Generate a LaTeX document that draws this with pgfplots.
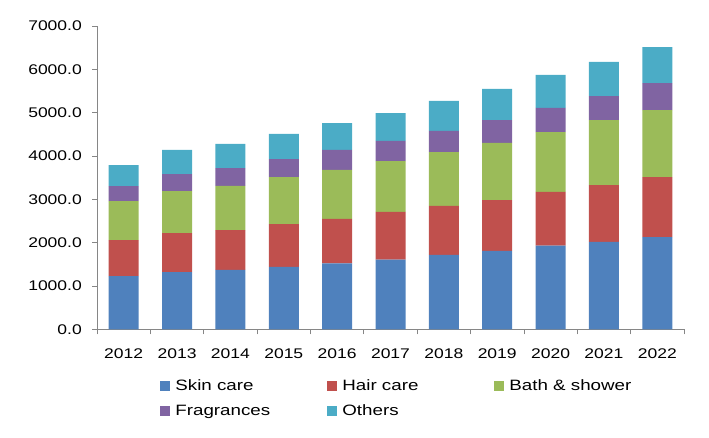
\documentclass[border=0pt]{standalone}
\usepackage{fontspec}
\setmainfont{Liberation Sans}[FakeStretch=1.25]
\usepackage{pgfplots}
\pgfplotsset{compat=1.18}
\definecolor{cSkin}{HTML}{4F81BD}
\definecolor{cHair}{HTML}{C0504D}
\definecolor{cBath}{HTML}{9BBB59}
\definecolor{cFrag}{HTML}{8064A2}
\definecolor{cOth}{HTML}{4BACC6}
\definecolor{axgray}{HTML}{868686}
\newcommand\tf{\fontsize{14bp}{16bp}\selectfont}
\newcommand\lf{\fontsize{15bp}{17bp}\selectfont}
\begin{document}
\begin{tikzpicture}
\path[use as bounding box] (0,0) rectangle (709bp,438bp);
\begin{axis}[
  at={(97bp,108.7bp)}, anchor=south west,
  scale only axis, width=587bp, height=303.3bp,
  ybar stacked, bar width=30bp,
  xmin=-0.5, xmax=10.5, ymin=0, ymax=7000,
  axis x line*=bottom, axis y line*=left,
  axis line style={axgray, line width=0.8bp},
  xtick={0,...,10},
  xticklabels={2012,2013,2014,2015,2016,2017,2018,2019,2020,2021,2022},
  minor xtick={-0.5,0.5,...,10.5},
  major x tick style={draw=none},
  minor x tick style={axgray, line width=0.8bp},
  minor tick length=5bp,
  ytick={0,1000,...,7000},
  y tick style={axgray, line width=0.8bp},
  major tick length=5bp,
  tick align=outside,
  /pgf/number format/fixed, /pgf/number format/fixed zerofill,
  /pgf/number format/precision=1, /pgf/number format/1000 sep={},
  /pgf/number format/assume math mode=true,
  yticklabel style={font=\tf, inner sep=0pt, xshift=-10bp},
  xticklabel style={font=\tf, inner sep=0pt, yshift=-14bp},
  legend columns=3,
  legend style={at={(0.108,-0.165)}, anchor=north west, draw=none, fill=none,
    inner sep=0pt, outer sep=0pt, font=\lf, row sep=13bp,
    nodes={inner sep=0pt, anchor=base west}},
  legend cell align=left,
  legend image code/.code={\fill[#1,draw=none] (0bp,-0.5bp) rectangle (9.5bp,9.5bp); \path (15bp,0bp);},
]
\addplot[fill=cSkin, draw=none] coordinates {(0,1230) (1,1320) (2,1370) (3,1440) (4,1520) (5,1606) (6,1715) (7,1810) (8,1930) (9,2020) (10,2130)};
\addplot[fill=cHair, draw=none] coordinates {(0,830) (1,900) (2,920) (3,990) (4,1030) (5,1104) (6,1135) (7,1170) (8,1240) (9,1310) (10,1380)};
\addplot[fill=cBath, draw=none] coordinates {(0,900) (1,970) (2,1020) (3,1080) (4,1130) (5,1170) (6,1240) (7,1320) (8,1380) (9,1500) (10,1550)};
\addplot[fill=cFrag, draw=none] coordinates {(0,347) (1,390) (2,410) (3,420) (4,460) (5,470) (6,490) (7,530) (8,560) (9,550) (10,620)};
\addplot[fill=cOth, draw=none] coordinates {(0,483) (1,560) (2,560) (3,580) (4,620) (5,640) (6,690) (7,720) (8,760) (9,790) (10,830)};
\legend{\makebox[152bp][l]{Skin care},\makebox[152bp][l]{Hair care},\makebox[152bp][l]{Bath \& shower},\makebox[152bp][l]{Fragrances},\makebox[152bp][l]{Others}}
\end{axis}
\end{tikzpicture}
\end{document}
